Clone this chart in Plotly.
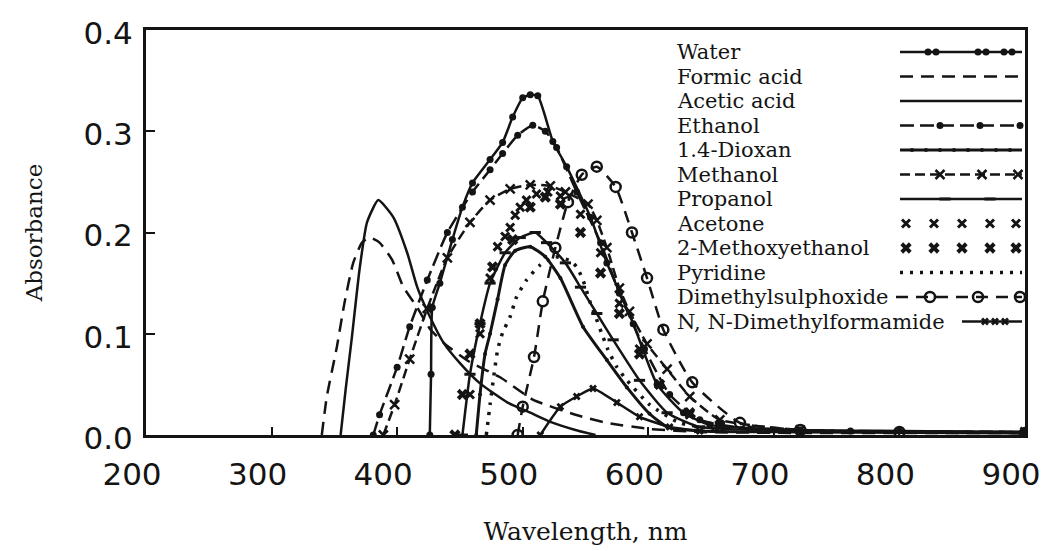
import plotly.graph_objects as go

# ---------------- data (wavelength in nm, absorbance) ----------------
series_names = ["Water", "Formic acid", "Acetic acid", "Ethanol", "1.4-Dioxan", "Methanol",
                "Propanol", "Acetone", "2-Methoxyethanol", "Pyridine", "Dimethylsulphoxide",
                "N, N-Dimethylformamide"]

water_nm = [426, 427, 428, 434, 444, 452, 460, 474, 484, 492, 500, 506, 512, 524, 535, 554, 567, 588, 607, 628, 649, 721, 800, 900]
water_abs = [0.0, 0.06, 0.126, 0.15, 0.193, 0.225, 0.249, 0.272, 0.289, 0.314, 0.333, 0.336, 0.335, 0.29, 0.265, 0.215, 0.17, 0.11, 0.05, 0.022, 0.01, 0.005, 0.004, 0.003]

formic_nm = [340, 344, 352, 358, 365, 372, 378, 386, 396, 405, 416, 426, 438, 458, 482, 508, 542, 567, 601, 641, 721, 800, 900]
formic_abs = [0.0, 0.038, 0.087, 0.13, 0.17, 0.19, 0.195, 0.19, 0.173, 0.146, 0.126, 0.105, 0.09, 0.072, 0.057, 0.035, 0.02, 0.012, 0.006, 0.003, 0.002, 0.002, 0.002]

acetic_nm = [355, 359, 364, 370, 376, 385, 397, 408, 416, 426, 437, 450, 466, 488, 506, 522, 542, 558]
acetic_abs = [0.0, 0.045, 0.097, 0.163, 0.21, 0.232, 0.215, 0.18, 0.146, 0.117, 0.091, 0.071, 0.051, 0.032, 0.022, 0.013, 0.005, 0.0]

ethanol_nm = [381, 386, 400, 410, 424, 440, 460, 474, 484, 496, 508, 518, 527, 543, 562, 577, 597, 617, 641, 681, 761, 900]
ethanol_abs = [0.0, 0.02, 0.067, 0.107, 0.153, 0.2, 0.24, 0.262, 0.278, 0.296, 0.306, 0.3, 0.284, 0.24, 0.19, 0.14, 0.085, 0.04, 0.015, 0.006, 0.004, 0.003]

dioxan_nm = [463, 466, 470, 474, 480, 486, 494, 506, 518, 530, 548, 567, 583, 601, 615, 641, 721, 900]
dioxan_abs = [0.0, 0.04, 0.08, 0.1, 0.134, 0.168, 0.182, 0.186, 0.176, 0.155, 0.107, 0.074, 0.047, 0.021, 0.008, 0.004, 0.003, 0.002]

methanol_nm = [389, 398, 410, 424, 440, 458, 474, 490, 506, 522, 534, 552, 559, 567, 577, 585, 599, 615, 633, 657, 721, 900]
methanol_abs = [0.0, 0.03, 0.075, 0.125, 0.175, 0.21, 0.232, 0.243, 0.247, 0.246, 0.24, 0.228, 0.212, 0.185, 0.145, 0.122, 0.09, 0.065, 0.038, 0.015, 0.005, 0.003]

propanol_nm = [452, 458, 466, 474, 486, 498, 510, 519, 534, 546, 559, 572, 593, 615, 641, 721, 900]
propanol_abs = [0.0, 0.06, 0.11, 0.15, 0.18, 0.195, 0.2, 0.19, 0.17, 0.146, 0.12, 0.094, 0.054, 0.022, 0.008, 0.004, 0.003]

acetone_nm = [458, 466, 474, 480, 486, 490, 494, 498, 503, 511, 520, 530, 546, 562, 577, 593, 609, 633, 657]
acetone_abs = [0.04, 0.1, 0.155, 0.186, 0.196, 0.205, 0.217, 0.225, 0.232, 0.238, 0.24, 0.236, 0.218, 0.18, 0.13, 0.085, 0.05, 0.02, 0.008]

methoxy_nm = [446, 452, 458, 466, 476, 492, 506, 518, 530, 546, 562, 577, 593, 609, 633, 657]
methoxy_abs = [0.0, 0.04, 0.08, 0.11, 0.166, 0.193, 0.225, 0.235, 0.228, 0.2, 0.16, 0.12, 0.08, 0.05, 0.022, 0.01]

pyridine_nm = [471, 474, 480, 484, 490, 495, 503, 514, 526, 538, 543, 548, 554, 558, 563, 568, 575, 583, 601, 625, 657]
pyridine_abs = [0.0, 0.03, 0.084, 0.101, 0.117, 0.136, 0.153, 0.168, 0.176, 0.172, 0.166, 0.153, 0.13, 0.117, 0.1, 0.084, 0.067, 0.054, 0.03, 0.012, 0.005]

dmso_nm = [496, 500, 509, 516, 526, 536, 547, 559, 574, 587, 599, 612, 635, 673, 721, 800, 900]
dmso_abs = [0.0, 0.028, 0.077, 0.132, 0.185, 0.23, 0.257, 0.265, 0.245, 0.2, 0.155, 0.104, 0.052, 0.012, 0.005, 0.003, 0.002]

dmf_nm = [514, 530, 543, 556, 575, 593, 617, 641]
dmf_abs = [0.0, 0.028, 0.038, 0.046, 0.032, 0.018, 0.008, 0.004]

x_ticks = [200, 300, 400, 500, 600, 700, 800, 900]
y_ticks = [0.0, 0.1, 0.2, 0.3, 0.4]

# ---------------- styles ----------------
INK = "#141414"
styles = [
    dict(mode="lines+markers", line=dict(dash="solid", width=2.5), marker=dict(symbol="circle", size=7)),
    dict(mode="lines", line=dict(dash="13px,8px", width=2.5), marker=dict(symbol="circle", size=1)),
    dict(mode="lines", line=dict(dash="solid", width=2.5), marker=dict(symbol="circle", size=1)),
    dict(mode="lines+markers", line=dict(dash="14px,6px", width=2.5), marker=dict(symbol="circle", size=7)),
    dict(mode="lines+markers", line=dict(dash="solid", width=3), marker=dict(symbol="circle", size=4)),
    dict(mode="lines+markers", line=dict(dash="10px,5px", width=2.5), marker=dict(symbol="x-thin", size=9, line=dict(width=2.5, color=INK))),
    dict(mode="lines+markers", line=dict(dash="solid", width=2.5), marker=dict(symbol="line-ew", size=8, line=dict(width=3, color=INK))),
    dict(mode="markers", line=dict(dash="solid", width=2), marker=dict(symbol="x-thin", size=8, line=dict(width=3, color=INK))),
    dict(mode="markers", line=dict(dash="solid", width=2), marker=dict(symbol="x", size=10)),
    dict(mode="lines", line=dict(dash="3px,7px", width=3.5), marker=dict(symbol="circle", size=1)),
    dict(mode="lines+markers", line=dict(dash="12px,8px", width=2.5), marker=dict(symbol="circle-open", size=10, line=dict(width=2.5, color=INK))),
    dict(mode="lines+markers", line=dict(dash="solid", width=2.5), marker=dict(symbol="x", size=7)),
]

data_x = [water_nm, formic_nm, acetic_nm, ethanol_nm, dioxan_nm, methanol_nm, propanol_nm,
          acetone_nm, methoxy_nm, pyridine_nm, dmso_nm, dmf_nm]
data_y = [water_abs, formic_abs, acetic_abs, ethanol_abs, dioxan_abs, methanol_abs, propanol_abs,
          acetone_abs, methoxy_abs, pyridine_abs, dmso_abs, dmf_abs]

fig = go.Figure()
for name, xs, ys, st in zip(series_names, data_x, data_y, styles):
    line = dict(st["line"], color=INK, shape="spline", smoothing=0.5)
    marker = dict(st["marker"], color=INK)
    fig.add_trace(go.Scatter(x=xs, y=ys, mode=st["mode"], name=name, line=line, marker=marker,
                             showlegend=False, hoverinfo="skip"))

# ---------------- hand-drawn style legend (text left, sample right) ----------------
PLOT_L, PLOT_R, PLOT_T, PLOT_B = 146, 1025, 30, 435
W = PLOT_R - PLOT_L
H = PLOT_B - PLOT_T


def fx(px):
    return (px - PLOT_L) / W


def fy(py):
    return (PLOT_B - py) / H


row_y0, row_dy = 52, 24.5
sample_start = [900, 900, 900, 900, 900, 900, 900, 902, 902, 900, 896, 962]
sample_marks = [
    [928, 936, 978, 986, 1004, 1012],
    [],
    [],
    [940, 980, 1020],
    [912, 926, 940, 954, 968, 982, 996, 1010],
    [940, 982, 1018],
    [945, 990],
    [906, 934, 962, 990, 1016],
    [906, 934, 962, 990, 1016],
    [],
    [930, 978, 1020],
    [985, 995, 1005],
]
for i, (name, st) in enumerate(zip(series_names, styles)):
    yy = fy(row_y0 + row_dy * i)
    fig.add_annotation(x=fx(675), y=yy, xref="paper", yref="paper", text=name, showarrow=False,
                       xanchor="left", yanchor="middle",
                       font=dict(family="DejaVu Serif", size=21, color=INK))
    if "lines" in st["mode"]:
        fig.add_trace(go.Scatter(x=[fx(sample_start[i]), fx(1022)], y=[yy, yy], mode="lines",
                                 xaxis="x2", yaxis="y2", showlegend=False, hoverinfo="skip",
                                 line=dict(st["line"], color=INK)))
    if sample_marks[i]:
        fig.add_trace(go.Scatter(x=[fx(p) for p in sample_marks[i]], y=[yy] * len(sample_marks[i]),
                                 mode="markers", xaxis="x2", yaxis="y2", showlegend=False,
                                 hoverinfo="skip", marker=dict(st["marker"], color=INK)))

axis_font = dict(family="DejaVu Sans", size=31, color=INK)
fig.update_layout(
    width=1045, height=551,
    margin=dict(l=PLOT_L, r=1045 - PLOT_R, t=PLOT_T, b=551 - PLOT_B),
    paper_bgcolor="white", plot_bgcolor="white",
    showlegend=False,
    xaxis=dict(range=[200, 900], tickvals=x_ticks, ticktext=[str(v) for v in x_ticks],
               showgrid=False, zeroline=False, showline=True, linewidth=3, linecolor=INK,
               mirror=True, ticks="inside", ticklen=8, tickwidth=2, tickcolor=INK,
               tickfont=axis_font, ticklabelstandoff=10, ticklabelshift=-14,
               ticklabeloverflow="allow", automargin=False,
               title=dict(text="Wavelength, nm", standoff=32,
                          font=dict(family="DejaVu Serif", size=25, color=INK))),
    yaxis=dict(range=[0, 0.4], tickvals=y_ticks, ticktext=["%.1f" % v for v in y_ticks],
               showgrid=False, zeroline=False, showline=True, linewidth=3, linecolor=INK,
               mirror=True, ticks="inside", ticklen=9, tickwidth=2, tickcolor=INK,
               tickfont=axis_font, ticklabelstandoff=4, ticklabelshift=3, automargin=False,
               title=dict(text="Absorbance", standoff=35,
                          font=dict(family="DejaVu Serif", size=23, color=INK))),
    xaxis2=dict(overlaying="x", range=[0, 1], visible=False),
    yaxis2=dict(overlaying="y", range=[0, 1], visible=False),
)

fig.write_html("out.html")
